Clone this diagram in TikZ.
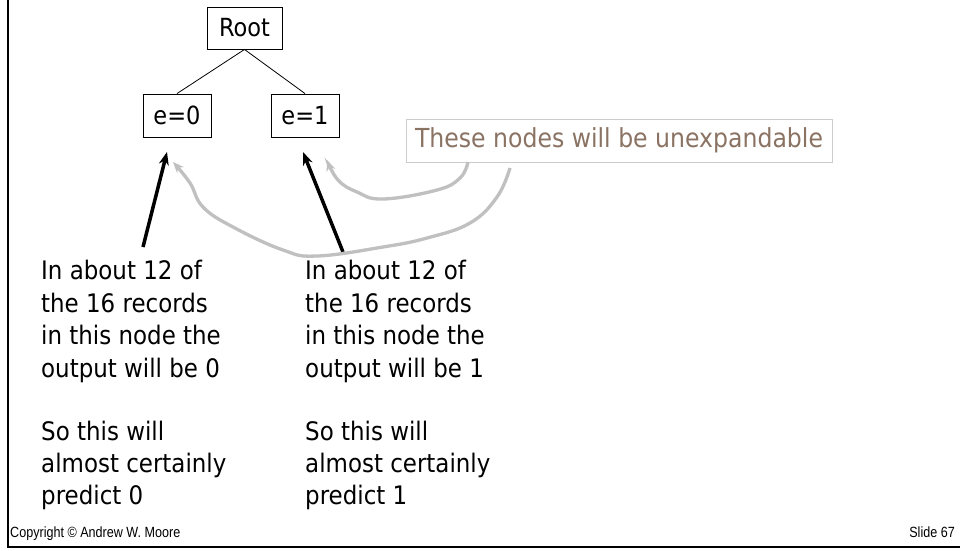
\documentclass[tikz,border=0pt]{standalone}
\usepackage{fontspec}
\setmainfont{DejaVu Sans}[FakeStretch=0.9]
\newfontfamily\footfont{Liberation Sans}[FakeStretch=0.85]
\usetikzlibrary{arrows.meta}
\definecolor{graytext}{RGB}{139,115,100}
\definecolor{arrgray}{RGB}{192,192,192}
\definecolor{boxgray}{RGB}{204,204,204}
\begin{document}
\begin{tikzpicture}[x=1pt,y=-1pt,
  treebox/.style={draw=black, line width=0.9pt, inner sep=0, font=\fontsize{25}{30}\selectfont},
  bodytext/.style={anchor=base west, inner sep=0, font=\fontsize{25.5}{30}\selectfont},
  blackarrow/.style={line width=3.5pt, -{Stealth[length=13pt,width=10pt]}},
  grayarrow/.style={draw=arrgray, line width=3.3pt, -{Stealth[length=11pt,width=9pt]}},
  foot/.style={anchor=base west, inner sep=0, font=\footfont\fontsize{14.8}{16}\selectfont}]
\useasboundingbox (0,0) rectangle (960,550);
\fill[white] (0,0) rectangle (960,550);
\draw[line width=2.3pt] (8,0) -- (8,547) -- (960,547);

\node[treebox, minimum width=75pt, minimum height=42pt] (root) at (244.5,28) {Root};
\node[treebox, minimum width=68pt, minimum height=43pt] (e0) at (177,115.5) {e=0};
\node[treebox, minimum width=68pt, minimum height=43pt] (e1) at (305,115.5) {e=1};
\draw[line width=0.8pt] (root.south) -- (e0.north);
\draw[line width=0.8pt] (root.south) -- (e1.north);

\node[draw=boxgray, line width=1pt, minimum width=426pt, minimum height=43pt, inner sep=0,
      text=graytext, font=\fontsize{26.2}{30}\selectfont] (note) at (619,140.5) {These nodes will be unexpandable};

\foreach \t/\y [count=\i] in {In about 12 of/279, the 16 records/312, in this node the/344.5, output will be 0/377, So this will/440, almost certainly/472.5, predict 0/504.5}
  \node[bodytext] (L\i) at (41,\y) {\t};
\foreach \t/\y [count=\i] in {In about 12 of/279, the 16 records/312, in this node the/344.5, output will be 1/377, So this will/440, almost certainly/472.5, predict 1/504.5}
  \node[bodytext] (R\i) at (305,\y) {\t};

\coordinate (s0) at (143,247);
\coordinate (t0) at (167,152);
\coordinate (s1) at (343,252);
\coordinate (t1) at (303,152);
\draw[blackarrow] (s0) -- (t0);
\draw[blackarrow] (s1) -- (t1);

\draw[grayarrow] plot[smooth, tension=0.7] coordinates {(468,162) (460,178) (437,190) (383,199) (357,192) (338,180) (327,160)};
\draw[grayarrow] plot[smooth, tension=0.7] coordinates {(510,168) (497,197) (470,223) (427,238) (383,247) (317,256) (283,250) (233,227) (203,207) (190,183) (173,162)};

\node[foot] (copy) at (10,537) {Copyright © Andrew W. Moore};
\node[foot, anchor=base east] (slide) at (955,537) {Slide 67};
\end{tikzpicture}
\end{document}
